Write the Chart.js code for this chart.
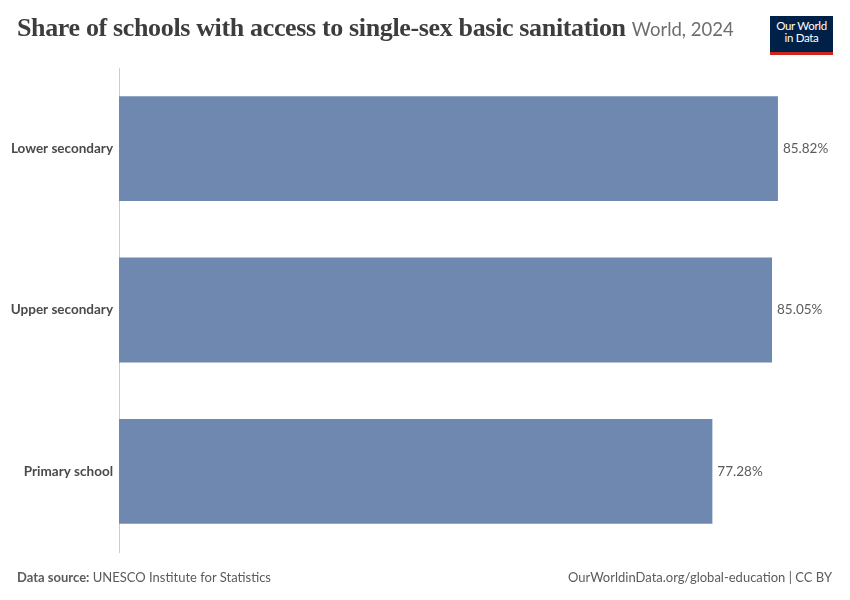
<!DOCTYPE html>
<html lang="en">
<head>
  <meta charset="UTF-8">
  <title>Share of schools with access to single-sex basic sanitation</title>
  <script src="https://cdn.jsdelivr.net/npm/chart.js"></script>
  <style>
    body { margin: 0; background: #fff; font-family: Lato, sans-serif; }
    #page { position: relative; width: 850px; height: 600px; overflow: hidden; }
    #title { position: absolute; left: 17px; top: 13px; white-space: nowrap;
             font-family: "Liberation Serif", serif; font-weight: bold; font-size: 26px; color: #3d3d3d; letter-spacing: -0.35px; }
    #title span { font-family: Lato, sans-serif; font-weight: normal; font-size: 18.5px; color: #6e6e6e; letter-spacing: 0; }
    #logo { position: absolute; left: 770px; top: 16px; width: 63px; height: 32px; background: #002147;
            border-bottom: 3px solid #ce261e; color: #fff; font-size: 11.5px; line-height: 12px;
            text-align: center; padding-top: 4px; box-sizing: content-box; letter-spacing: -0.3px; }
    #chartBox { position: absolute; left: 0; top: 0; width: 850px; height: 600px; }
    .foot { position: absolute; top: 569px; font-size: 13px; color: #5b5b5b; }
  </style>
</head>
<body>
<div id="page">
  <div id="chartBox"><canvas id="chart"></canvas></div>
  <div id="title">Share of schools with access to single-sex basic sanitation <span>World, 2024</span></div>
  <div id="logo">Our World<br>in Data</div>
  <div class="foot" style="left:17px"><b>Data source:</b> UNESCO Institute for Statistics</div>
  <div class="foot" style="right:18px">OurWorldinData.org/global-education | CC BY</div>
</div>

<script>
  const categories = ["Lower secondary", "Upper secondary", "Primary school"];
  const shares = [85.82, 85.05, 77.28];

  // labels at end of each bar
  const valueLabels = {
    id: "valueLabels",
    afterDatasetsDraw(chart) {
      const ctx = chart.ctx;
      const meta = chart.getDatasetMeta(0);
      ctx.save();
      ctx.font = "13.5px Lato";
      ctx.fillStyle = "#5b5b5b";
      ctx.textBaseline = "middle";
      meta.data.forEach((bar, i) => {
        ctx.fillText(shares[i].toFixed(2) + "%", bar.x + 5, bar.y);
      });
      ctx.restore();
    }
  };

  new Chart(document.getElementById("chart"), {
    type: "bar",
    data: {
      labels: categories,
      datasets: [{
        data: shares,
        backgroundColor: "#6f88b0",
        barPercentage: 0.65,
        categoryPercentage: 1
      }]
    },
    options: {
      indexAxis: "y",
      responsive: true,
      maintainAspectRatio: false,
      animation: false,
      layout: { padding: { top: 68, bottom: 48, right: 20, left: 0 } },
      plugins: { legend: { display: false }, tooltip: { enabled: false } },
      scales: {
        x: { display: false, min: 0, max: 92.6 },
        y: {
          grid: { display: false, drawTicks: false },
          border: { display: true, color: "#cccccc", width: 1 },
          ticks: { color: "#4a4a4a", padding: 6, font: { family: "Lato", size: 13.5, weight: "bold" } },
          afterFit(scale) { scale.width = 119; }
        }
      }
    },
    plugins: [valueLabels]
  });
</script>
</body>
</html>
